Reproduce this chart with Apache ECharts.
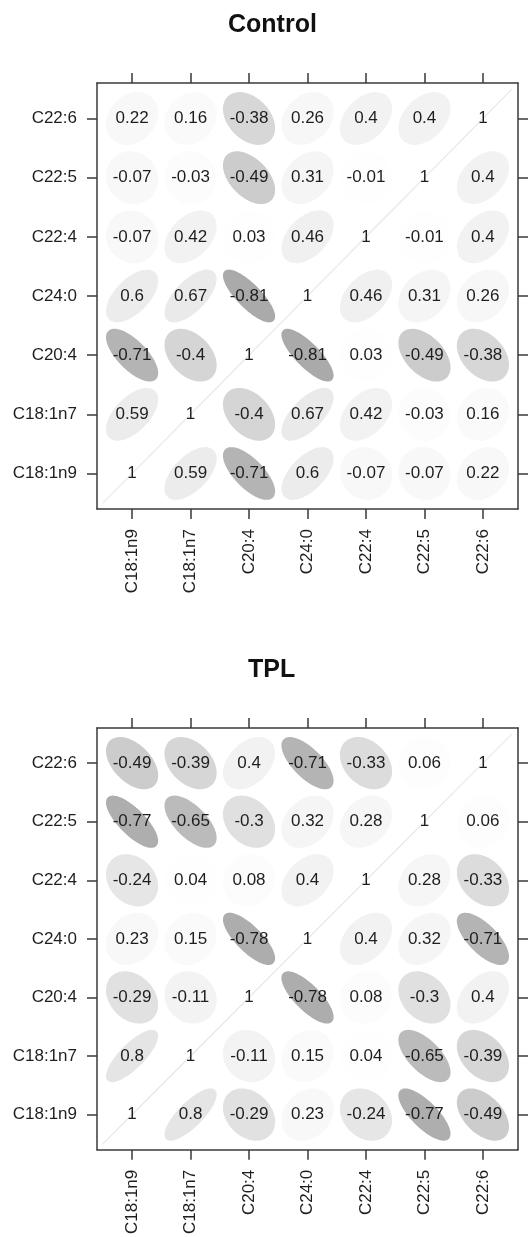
<!DOCTYPE html>
<html>
<head>
<meta charset="utf-8">
<script src="https://cdn.jsdelivr.net/npm/echarts@6/dist/echarts.min.js"></script>
<style>
html,body{margin:0;padding:0;background:#fff;}
#chart{width:528px;height:1237px;}
</style>
</head>
<body>
<div id="chart"></div>
<script>
// ---- data ----
const categories = ['C18:1n9', 'C18:1n7', 'C20:4', 'C24:0', 'C22:4', 'C22:5', 'C22:6'];
const tickPositions = [1, 2, 3, 4, 5, 6, 7];
const panelTitles = ['Control', 'TPL'];

// rows follow category order (bottom row first), columns follow category order
const controlCorr = [
  [1, 0.59, -0.71, 0.6, -0.07, -0.07, 0.22],
  [0.59, 1, -0.4, 0.67, 0.42, -0.03, 0.16],
  [-0.71, -0.4, 1, -0.81, 0.03, -0.49, -0.38],
  [0.6, 0.67, -0.81, 1, 0.46, 0.31, 0.26],
  [-0.07, 0.42, 0.03, 0.46, 1, -0.01, 0.4],
  [-0.07, -0.03, -0.49, 0.31, -0.01, 1, 0.4],
  [0.22, 0.16, -0.38, 0.26, 0.4, 0.4, 1]
];
const tplCorr = [
  [1, 0.8, -0.29, 0.23, -0.24, -0.77, -0.49],
  [0.8, 1, -0.11, 0.15, 0.04, -0.65, -0.39],
  [-0.29, -0.11, 1, -0.78, 0.08, -0.3, 0.4],
  [0.23, 0.15, -0.78, 1, 0.4, 0.32, -0.71],
  [-0.24, 0.04, 0.08, 0.4, 1, 0.28, -0.33],
  [-0.77, -0.65, -0.3, 0.32, 0.28, 1, 0.06],
  [-0.49, -0.39, 0.4, -0.71, -0.33, 0.06, 1]
];

// ---- helpers ----
const FONT = '"Liberation Sans", Arial, sans-serif';
const TEXT_COLOR = '#1e1e1e';
const LINE_COLOR = '#3a3a3a';
const HALF = 0.425;

function toCells(mat) {
  const out = [];
  for (let i = 0; i < mat.length; i++) {
    for (let j = 0; j < mat[i].length; j++) {
      out.push([tickPositions[j], tickPositions[i], mat[i][j]]);
    }
  }
  return out;
}

function shade(r) {
  let g = r < 0 ? 255 - 105 * Math.abs(r) : 255 - 32 * r;
  g = Math.round(Math.max(0, Math.min(255, g)));
  return 'rgb(' + g + ',' + g + ',' + g + ')';
}

function renderCell(params, api) {
  const xi = api.value(0), yi = api.value(1), r = api.value(2);
  const color = shade(r);
  const center = api.coord([xi, yi]);
  const children = [];
  if (r >= 0.999) {
    children.push({
      type: 'polyline',
      shape: { points: [api.coord([xi - 0.5, yi - 0.5]), api.coord([xi + 0.5, yi + 0.5])] },
      style: { stroke: '#e8e8e8', lineWidth: 1.2, fill: null }
    });
  } else {
    const d = Math.acos(Math.max(-1, Math.min(1, r)));
    const pts = [];
    const n = 72;
    for (let k = 0; k < n; k++) {
      const a = 2 * Math.PI * k / n;
      pts.push(api.coord([xi + HALF * Math.cos(a + d / 2), yi + HALF * Math.cos(a - d / 2)]));
    }
    children.push({
      type: 'polygon',
      shape: { points: pts },
      style: { fill: color, stroke: color, lineWidth: 2.5, lineJoin: 'round' }
    });
  }
  children.push({
    type: 'text',
    x: center[0],
    y: center[1],
    style: {
      text: String(r),
      fill: TEXT_COLOR,
      font: '17px ' + FONT,
      align: 'center',
      verticalAlign: 'middle'
    }
  });
  return { type: 'group', children: children };
}

function makeX(gridIndex, position, showLabel) {
  return {
    type: 'value', gridIndex: gridIndex, position: position,
    min: 0.4, max: 7.6,
    axisLine: { show: true, onZero: false, lineStyle: { color: LINE_COLOR, width: 1.5 } },
    axisTick: { show: true, customValues: tickPositions, length: 10, lineStyle: { color: LINE_COLOR, width: 1.5 } },
    axisLabel: {
      show: showLabel, customValues: tickPositions, rotate: 90, margin: 20,
      fontSize: 17, fontFamily: FONT, color: TEXT_COLOR,
      formatter: function (v) { return categories[Math.round(v) - 1]; }
    },
    splitLine: { show: false }
  };
}
function makeY(gridIndex, position, showLabel) {
  return {
    type: 'value', gridIndex: gridIndex, position: position,
    min: 0.4, max: 7.6,
    axisLine: { show: true, onZero: false, lineStyle: { color: LINE_COLOR, width: 1.5 } },
    axisTick: { show: true, customValues: tickPositions, length: 10, lineStyle: { color: LINE_COLOR, width: 1.5 } },
    axisLabel: {
      show: showLabel, customValues: tickPositions, margin: 20,
      fontSize: 17, fontFamily: FONT, color: TEXT_COLOR,
      formatter: function (v) { return categories[Math.round(v) - 1]; }
    },
    splitLine: { show: false }
  };
}

const chart = echarts.init(document.getElementById('chart'), null, { renderer: 'canvas' });
chart.setOption({
  animation: false,
  backgroundColor: '#ffffff',
  title: [
    { text: panelTitles[0], left: 228, top: 13, padding: 0,
      textStyle: { fontSize: 25, fontWeight: 'bold', fontFamily: FONT, color: '#111' } },
    { text: panelTitles[1], left: 248, top: 658, padding: 0,
      textStyle: { fontSize: 25, fontWeight: 'bold', fontFamily: FONT, color: '#111' } }
  ],
  grid: [
    { left: 97, top: 83, width: 421, height: 426 },
    { left: 97, top: 728, width: 421, height: 427 }
  ],
  xAxis: [makeX(0, 'bottom', true), makeX(0, 'top', false), makeX(1, 'bottom', true), makeX(1, 'top', false)],
  yAxis: [makeY(0, 'left', true), makeY(0, 'right', false), makeY(1, 'left', true), makeY(1, 'right', false)],
  series: [
    { type: 'custom', xAxisIndex: 0, yAxisIndex: 0, data: toCells(controlCorr), renderItem: renderCell, silent: true },
    { type: 'custom', xAxisIndex: 2, yAxisIndex: 2, data: toCells(tplCorr), renderItem: renderCell, silent: true }
  ]
});
</script>
</body>
</html>
